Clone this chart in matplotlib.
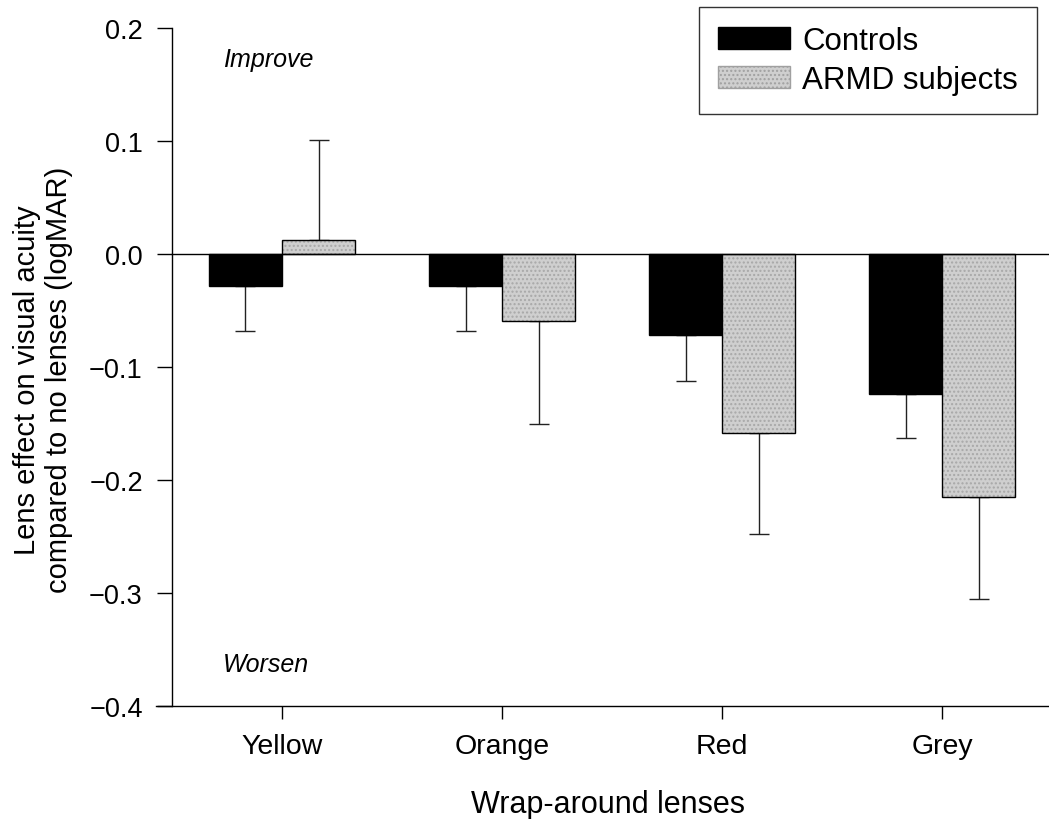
import numpy as np
import matplotlib
matplotlib.use("Agg")
import matplotlib.pyplot as plt
from matplotlib.patches import Patch

plt.rcParams['font.family'] = ['Liberation Sans', 'DejaVu Sans']

# Data
lenses = ["Yellow", "Orange", "Red", "Grey"]
controls = [-0.028, -0.028, -0.072, -0.124]
controls_err = [0.040, 0.040, 0.040, 0.039]
armd = [0.012, -0.059, -0.158, -0.215]
armd_err = [0.089, 0.091, 0.090, 0.090]

W, H = 1049, 820
fig = plt.figure(figsize=(W / 100, H / 100), dpi=100)
ax = fig.add_axes([156 / W, 1 - 707 / H, 893 / W, 678 / H])

x = np.arange(len(lenses))
bw = 0.332

# Controls: black bars, error bar pointing away from zero
ax.bar(x - bw / 2, controls, bw, color="black", edgecolor="black", linewidth=1, zorder=2)
c_lo = [e if v < 0 else 0 for v, e in zip(controls, controls_err)]
c_hi = [e if v >= 0 else 0 for v, e in zip(controls, controls_err)]
ax.errorbar(x - bw / 2, controls, yerr=[c_lo, c_hi], fmt="none", ecolor="#222222",
            elinewidth=1, capsize=7, capthick=1, zorder=1)

# ARMD: stippled grey bars
ax.bar(x + bw / 2, armd, bw, color="#cfcfcf", edgecolor="#a8a8a8", hatch="....",
       linewidth=0, zorder=2)
ax.bar(x + bw / 2, armd, bw, fill=False, edgecolor="black", linewidth=1, zorder=3)
a_lo = [e if v < 0 else 0 for v, e in zip(armd, armd_err)]
a_hi = [e if v >= 0 else 0 for v, e in zip(armd, armd_err)]
ax.errorbar(x + bw / 2, armd, yerr=[a_lo, a_hi], fmt="none", ecolor="#222222",
            elinewidth=1, capsize=7, capthick=1, zorder=1)

# zero line
ax.plot([-0.5, 3.6], [0, 0], color="black", linewidth=1, zorder=4)

ax.set_xlim(-0.5727, 3.486)
ax.set_ylim(-0.4, 0.2)

ax.spines["top"].set_visible(False)
ax.spines["right"].set_visible(False)
ax.spines["left"].set_position(("data", -0.5))
ax.spines["left"].set_bounds(-0.4, 0.2)
for s in ["left", "bottom"]:
    ax.spines[s].set_linewidth(1)

ax.set_yticks(np.arange(-0.4, 0.21, 0.1))
ax.set_yticklabels(["\u22120.4", "\u22120.3", "\u22120.2", "\u22120.1", "0.0", "0.1", "0.2"])
ax.set_xticks(x)
ax.set_xticklabels(lenses)
ax.tick_params(axis="y", direction="out", length=11, width=1, pad=10, labelsize=19.5)
ax.tick_params(axis="x", direction="out", length=9.5, width=1, pad=10, labelsize=20.5)

ax.text(-0.268, 0.166, "Improve", style="italic", fontsize=18, va="baseline", ha="left")
ax.text(-0.268, -0.369, "Worsen", style="italic", fontsize=18, va="baseline", ha="left")

fig.text(608 / W, 1 - 813 / H, "Wrap-around lenses", fontsize=22, ha="center", va="baseline")
fig.text(43 / W, 1 - 380 / H, "Lens effect on visual acuity\ncompared to no lenses (logMAR)",
         fontsize=21, rotation=90, ha="center", va="center", multialignment="center",
         linespacing=1.15)

handles = [Patch(facecolor="black", edgecolor="black"),
           Patch(facecolor="#cfcfcf", edgecolor="#a0a0a0", hatch="....")]
leg = fig.legend(handles, ["Controls", "ARMD subjects"], loc="upper right",
                 bbox_to_anchor=(1037 / W, 1 - 8 / H), fontsize=22.5, frameon=True,
                 fancybox=False, edgecolor="black", handlelength=2.3, handleheight=0.7,
                 handletextpad=0.4, labelspacing=0.3, borderpad=0.6, borderaxespad=0)
leg.get_frame().set_linewidth(1)

fig.savefig("out.png", dpi=100)
